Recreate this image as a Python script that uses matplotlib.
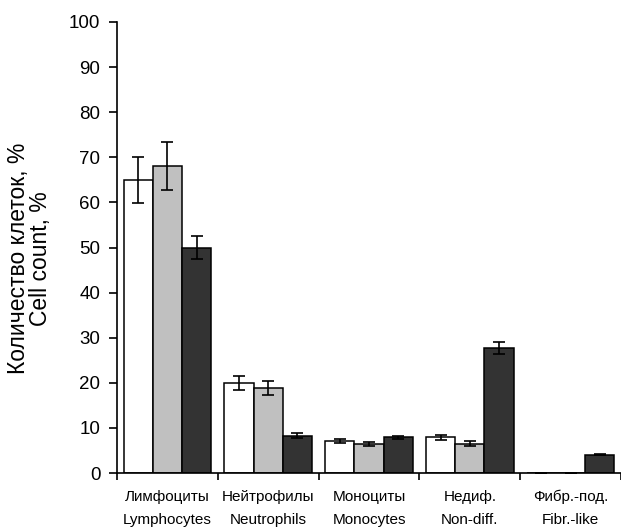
import numpy as np
import matplotlib
matplotlib.use("Agg")
import matplotlib.pyplot as plt

plt.rcParams['font.family'] = ['Liberation Sans', 'DejaVu Sans']

categories_ru = ['Лимфоциты', 'Нейтрофилы', 'Моноциты', 'Недиф.', 'Фибр.-под.']
categories_en = ['Lymphocytes', 'Neutrophils', 'Monocytes', 'Non-diff.', 'Fibr.-like']

# three series per category (white, grey, dark)
series1 = [65.0, 20.0, 7.1, 7.9, 0.0]
series2 = [68.1, 18.8, 6.4, 6.5, 0.0]
series3 = [50.0, 8.3, 7.9, 27.7, 4.1]

err1 = [5.1, 1.6, 0.5, 0.5, 0.05]
err2 = [5.4, 1.6, 0.5, 0.5, 0.05]
err3 = [2.5, 0.5, 0.4, 1.4, 0.1]

fig = plt.figure(figsize=(6.21, 5.31), dpi=100)
ax = fig.add_axes([117/621, 58/531, 504/621, 451/531])

x = np.arange(len(categories_ru))
w = 0.29
colors = ['white', '#c0c0c0', '#333333']
for i, (vals, errs) in enumerate([(series1, err1), (series2, err2), (series3, err3)]):
    ax.bar(x + (i - 1) * w, vals, w, color=colors[i], edgecolor='black', linewidth=1.1,
           yerr=errs, capsize=4, error_kw=dict(elinewidth=1.2, capthick=1.2, ecolor='black'),
           zorder=2)

ax.set_xlim(-0.5, -0.5 + 504/102)
ax.set_ylim(0, 100)
ax.set_yticks(np.arange(0, 101, 10))
ax.tick_params(axis='y', labelsize=13.5, length=6, width=1.2, direction='out', pad=6)

ax.set_xticks(np.arange(-0.5, len(categories_ru), 1.0))
ax.set_xticklabels([])
ax.tick_params(axis='x', which='major', length=5, width=1.2, direction='out')
ax.set_xticks(x, minor=True)
ax.set_xticklabels([r + '\n' + e for r, e in zip(categories_ru, categories_en)],
                   minor=True, fontsize=11, linespacing=1.85)
ax.tick_params(axis='x', which='minor', length=0, pad=12)

for s in ['top', 'right']:
    ax.spines[s].set_visible(False)
for s in ['left', 'bottom']:
    ax.spines[s].set_linewidth(1.2)

fig.text(0.048, 0.513, 'Количество клеток, %\nCell count, %', rotation=90,
         ha='center', va='center', fontsize=16.5, linespacing=0.95)

fig.savefig('out.png', dpi=100)
